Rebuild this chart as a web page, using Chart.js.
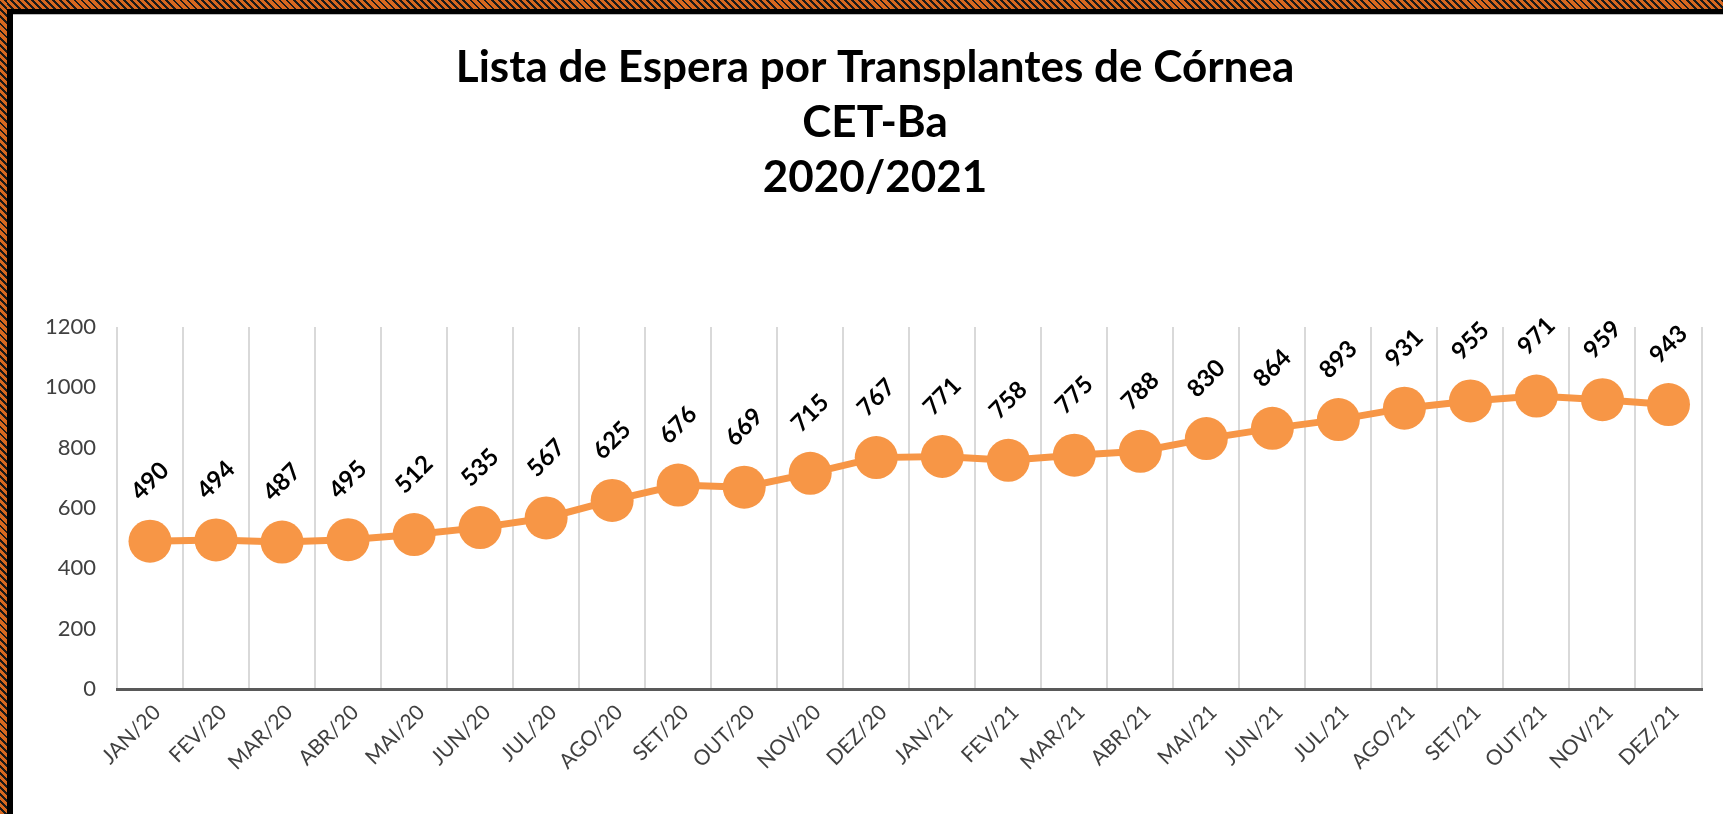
<!DOCTYPE html>
<html>
<head>
<meta charset="utf-8">
<script src="https://cdn.jsdelivr.net/npm/chart.js@4/dist/chart.umd.min.js"></script>
<style>
  html, body { margin: 0; padding: 0; background: #fff; overflow: hidden; }
  body { width: 1723px; height: 814px; position: relative; }
  .hatch { position: absolute; background: repeating-linear-gradient(45deg, #d8681f 0 3px, #1a1a1a 3px 5px); }
  .blk { position: absolute; background: #000; }
  #wrap { position: absolute; left: 13px; top: 15px; width: 1710px; height: 799px; }
</style>
</head>
<body>
<div class="hatch" style="left:0;top:0;width:1723px;height:9px"></div>
<div class="hatch" style="left:0;top:0;width:7px;height:814px"></div>
<div class="blk" style="left:7px;top:9px;width:1716px;height:5px"></div>
<div class="blk" style="left:7px;top:9px;width:6px;height:805px"></div>
<div style="position:absolute;left:13px;top:14px;width:1710px;height:1px;background:#bbb"></div>
<div id="wrap"><canvas id="myChart"></canvas></div>
<script>
var months = ['JAN/20', 'FEV/20', 'MAR/20', 'ABR/20', 'MAI/20', 'JUN/20', 'JUL/20', 'AGO/20', 'SET/20', 'OUT/20', 'NOV/20', 'DEZ/20',
              'JAN/21', 'FEV/21', 'MAR/21', 'ABR/21', 'MAI/21', 'JUN/21', 'JUL/21', 'AGO/21', 'SET/21', 'OUT/21', 'NOV/21', 'DEZ/21']
var waiting = [490, 494, 487, 495, 512, 535, 567, 625, 676, 669, 715, 767,
               771, 758, 775, 788, 830, 864, 893, 931, 955, 971, 959, 943]
var yTicks = [0, 200, 400, 600, 800, 1000, 1200]
var titleLines = ['Lista de Espera por Transplantes de Córnea', 'CET-Ba', '2020/2021']

// rotated value labels above each point
var valueLabels = {
  id: 'valueLabels',
  afterDatasetsDraw: function(chart) {
    var ctx = chart.ctx
    var meta = chart.getDatasetMeta(0)
    ctx.save()
    ctx.font = 'bold 24px Lato'
    ctx.fillStyle = '#000'
    ctx.textAlign = 'center'
    ctx.textBaseline = 'middle'
    meta.data.forEach(function(pt, i) {
      ctx.save()
      ctx.translate(pt.x, pt.y - 60)
      ctx.rotate(-Math.PI / 4)
      ctx.fillText(String(waiting[i]), 0, 0)
      ctx.restore()
    })
    ctx.restore()
  }
}

var ctx = document.getElementById('myChart').getContext('2d')
var chart = new Chart(ctx, {
  type: 'line',
  data: {
    labels: months,
    datasets: [{
      data: waiting,
      borderColor: '#f79646',
      backgroundColor: '#f79646',
      borderWidth: 7,
      pointRadius: 21.5,
      pointHoverRadius: 21.5,
      pointBorderWidth: 0,
      pointBackgroundColor: '#f79646',
      tension: 0,
      clip: false
    }]
  },
  options: {
    responsive: true,
    maintainAspectRatio: false,
    animation: false,
    layout: { padding: { left: 30, right: 16, top: 0, bottom: 0 } },
    plugins: {
      legend: { display: false },
      tooltip: { enabled: false },
      title: {
        display: true,
        text: titleLines,
        color: '#000',
        font: { family: 'Lato', size: 44, weight: 'bold', lineHeight: 1.25 },
        padding: { top: 25, bottom: 122 }
      }
    },
    scales: {
      x: {
        offset: true,
        grid: { offset: true, color: '#d9d9d9', lineWidth: 2, drawTicks: false },
        border: { color: '#595959', width: 3 },
        ticks: {
          color: '#404040',
          font: { family: 'Lato', size: 21 },
          minRotation: 45,
          maxRotation: 45,
          padding: 11,
          labelOffset: 7,
          autoSkip: false
        },
        afterFit: function(scale) { scale.height = 125 }
      },
      y: {
        min: 0,
        max: 1200,
        grid: { display: false },
        border: { display: false },
        afterBuildTicks: function(scale) { scale.ticks = yTicks.map(function(v) { return { value: v } }) },
        ticks: {
          color: '#404040',
          font: { family: 'Lato', size: 22 },
          padding: 13,
          callback: function(v) { return String(v) }
        },
        afterFit: function(scale) { scale.width = 74 }
      }
    }
  },
  plugins: [valueLabels]
})
</script>
</body>
</html>
